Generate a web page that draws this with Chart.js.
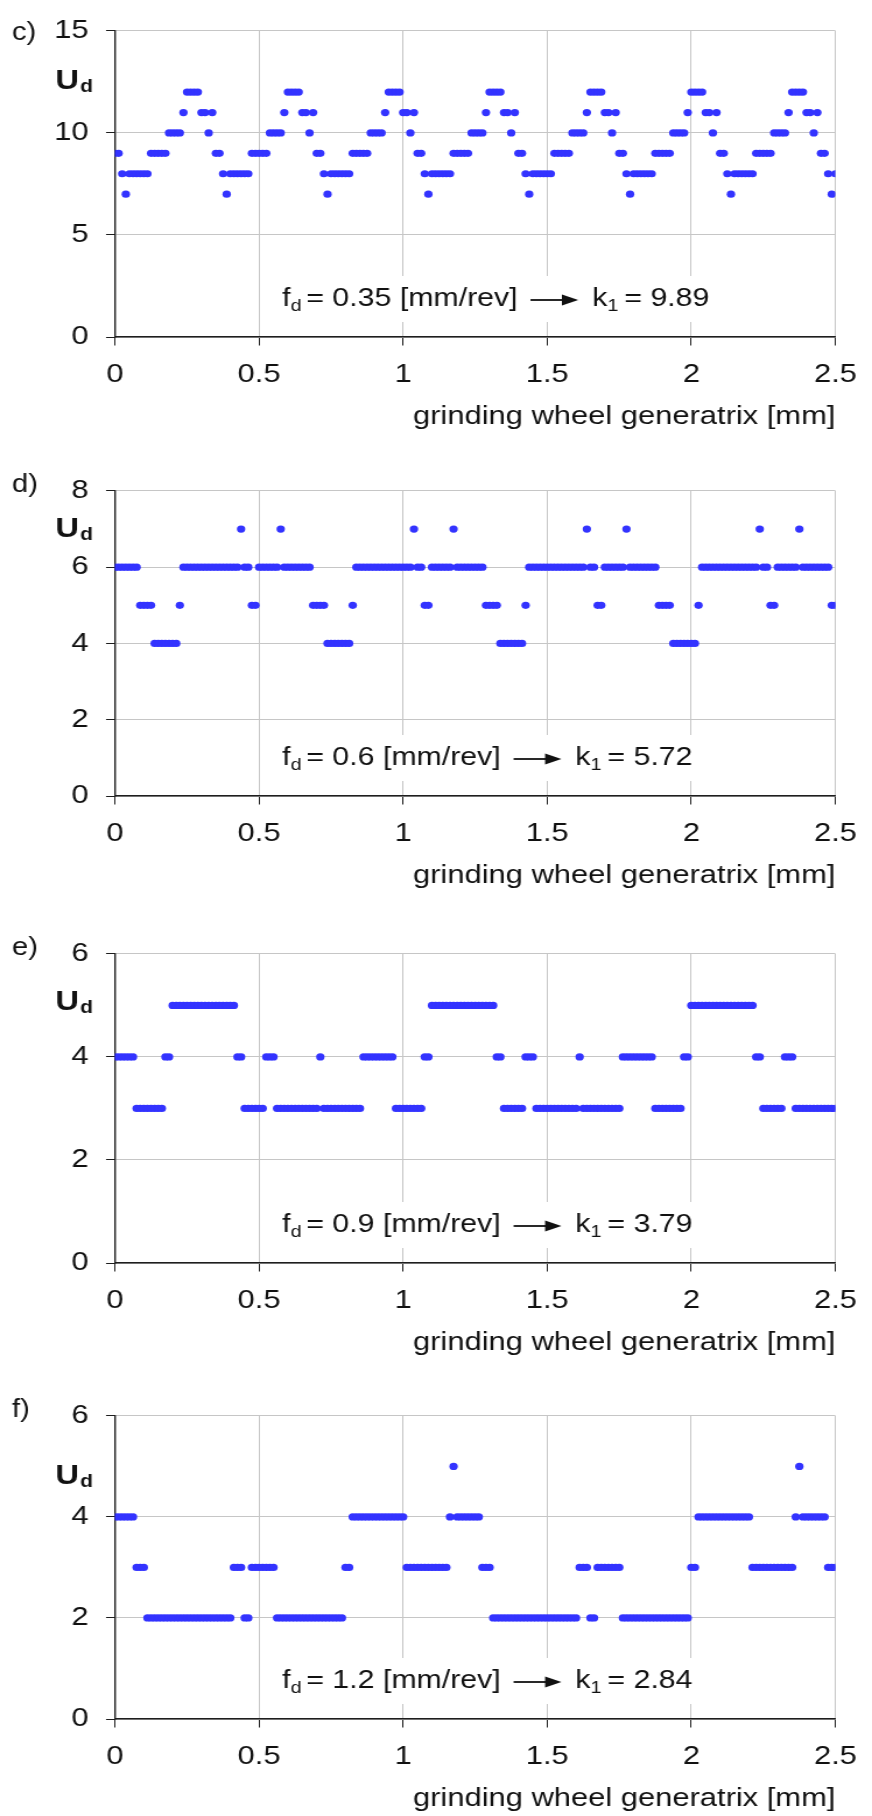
<!DOCTYPE html>
<html>
<head>
<meta charset="utf-8">
<title>Ud along the grinding wheel generatrix</title>
<script src="https://cdn.jsdelivr.net/npm/chart.js@4.4.0/dist/chart.umd.min.js"></script>
<style>
  html, body { margin: 0; padding: 0; background: #fff; }
  body { position: relative; width: 872px; height: 1816px; overflow: hidden; }
  canvas { position: absolute; left: 0; }
</style>
</head>
<body>
<!-- the original figure is stretched sideways, so each canvas is drawn 748 wide and shown 872 wide -->
<canvas id="panel-c" width="748" height="460" style="top:0px;width:872px;height:460px"></canvas>
<canvas id="panel-d" width="748" height="463" style="top:460px;width:872px;height:463px"></canvas>
<canvas id="panel-e" width="748" height="462" style="top:923px;width:872px;height:462px"></canvas>
<canvas id="panel-f" width="748" height="431" style="top:1385px;width:872px;height:431px"></canvas>
<script>
// sampling step along the generatrix [mm], 201 samples from 0 to 2.5
const STEP_MM = 0.0125;

// Ud, one value per sample
const udC = [
  9, 9, 8, 7, 8, 8, 8, 8, 8, 8, 9, 9, 9, 9, 9, 10, 10, 10, 10, 11, 12, 12, 12, 12, 11, 11, 10, 11,
  9, 9, 8, 7, 8, 8, 8, 8, 8, 8, 9, 9, 9, 9, 9, 10, 10, 10, 10, 11, 12, 12, 12, 12, 11, 11, 10, 11,
  9, 9, 8, 7, 8, 8, 8, 8, 8, 8, 9, 9, 9, 9, 9, 10, 10, 10, 10, 11, 12, 12, 12, 12, 11, 11, 10, 11,
  9, 9, 8, 7, 8, 8, 8, 8, 8, 8, 9, 9, 9, 9, 9, 10, 10, 10, 10, 11, 12, 12, 12, 12, 11, 11, 10, 11,
  9, 9, 8, 7, 8, 8, 8, 8, 8, 8, 9, 9, 9, 9, 9, 10, 10, 10, 10, 11, 12, 12, 12, 12, 11, 11, 10, 11,
  9, 9, 8, 7, 8, 8, 8, 8, 8, 8, 9, 9, 9, 9, 9, 10, 10, 10, 10, 11, 12, 12, 12, 12, 11, 11, 10, 11,
  9, 9, 8, 7, 8, 8, 8, 8, 8, 8, 9, 9, 9, 9, 9, 10, 10, 10, 10, 11, 12, 12, 12, 12, 11, 11, 10, 11,
  9, 9, 8, 7, 8
];

const udD = [
  6, 6, 6, 6, 6, 6, 6, 5, 5, 5, 5, 4, 4, 4, 4, 4, 4, 4, 5, 6, 6, 6, 6, 6, 6, 6, 6,
  6, 6, 6, 6, 6, 6, 6, 6, 7, 6, 6, 5, 5, 6, 6, 6, 6, 6, 6, 7, 6,
  6, 6, 6, 6, 6, 6, 6, 5, 5, 5, 5, 4, 4, 4, 4, 4, 4, 4, 5, 6, 6, 6, 6, 6, 6, 6, 6,
  6, 6, 6, 6, 6, 6, 6, 6, 7, 6, 6, 5, 5, 6, 6, 6, 6, 6, 6, 7, 6,
  6, 6, 6, 6, 6, 6, 6, 5, 5, 5, 5, 4, 4, 4, 4, 4, 4, 4, 5, 6, 6, 6, 6, 6, 6, 6, 6,
  6, 6, 6, 6, 6, 6, 6, 6, 7, 6, 6, 5, 5, 6, 6, 6, 6, 6, 6, 7, 6,
  6, 6, 6, 6, 6, 6, 6, 5, 5, 5, 5, 4, 4, 4, 4, 4, 4, 4, 5, 6, 6, 6, 6, 6, 6, 6, 6,
  6, 6, 6, 6, 6, 6, 6, 6, 7, 6, 6, 5, 5, 6, 6, 6, 6, 6, 6, 7, 6,
  6, 6, 6, 6, 6, 6, 6, 5, 5
];

const udE = [
  4, 4, 4, 4, 4, 4, 3, 3, 3, 3, 3, 3, 3, 3, 4, 4,
  5, 5, 5, 5, 5, 5, 5, 5, 5, 5, 5, 5, 5, 5, 5, 5, 5, 5,
  4, 4, 3, 3, 3, 3, 3, 3, 4, 4, 4,
  3, 3, 3, 3, 3, 3, 3, 3, 3, 3, 3, 3, 4,
  3, 3, 3, 3, 3, 3, 3, 3, 3, 3, 3, 4, 4, 4,
  4, 4, 4, 4, 4, 4, 3, 3, 3, 3, 3, 3, 3, 3, 4, 4,
  5, 5, 5, 5, 5, 5, 5, 5, 5, 5, 5, 5, 5, 5, 5, 5, 5, 5,
  4, 4, 3, 3, 3, 3, 3, 3, 4, 4, 4,
  3, 3, 3, 3, 3, 3, 3, 3, 3, 3, 3, 3, 4,
  3, 3, 3, 3, 3, 3, 3, 3, 3, 3, 3, 4, 4, 4,
  4, 4, 4, 4, 4, 4, 3, 3, 3, 3, 3, 3, 3, 3, 4, 4,
  5, 5, 5, 5, 5, 5, 5, 5, 5, 5, 5, 5, 5, 5, 5, 5, 5, 5,
  4, 4, 3, 3, 3, 3, 3, 3, 4, 4, 4,
  3, 3, 3, 3, 3, 3, 3, 3, 3, 3, 3, 3
];

const udF = [
  4, 4, 4, 4, 4, 4, 3, 3, 3,
  2, 2, 2, 2, 2, 2, 2, 2, 2, 2, 2, 2, 2, 2, 2, 2, 2, 2, 2, 2, 2, 2, 2, 2,
  3, 3, 3, 2, 2, 3, 3, 3, 3, 3, 3, 3,
  2, 2, 2, 2, 2, 2, 2, 2, 2, 2, 2, 2, 2, 2, 2, 2, 2, 2, 2,
  3, 3, 4, 4, 4, 4, 4, 4, 4, 4, 4, 4, 4, 4, 4, 4, 4,
  3, 3, 3, 3, 3, 3, 3, 3, 3, 3, 3, 3, 4, 5, 4,
  4, 4, 4, 4, 4, 4, 3, 3, 3,
  2, 2, 2, 2, 2, 2, 2, 2, 2, 2, 2, 2, 2, 2, 2, 2, 2, 2, 2, 2, 2, 2, 2, 2,
  3, 3, 3, 2, 2, 3, 3, 3, 3, 3, 3, 3,
  2, 2, 2, 2, 2, 2, 2, 2, 2, 2, 2, 2, 2, 2, 2, 2, 2, 2, 2,
  3, 3, 4, 4, 4, 4, 4, 4, 4, 4, 4, 4, 4, 4, 4, 4, 4,
  3, 3, 3, 3, 3, 3, 3, 3, 3, 3, 3, 3, 4, 5, 4,
  4, 4, 4, 4, 4, 4, 3, 3, 3
];

const panelLetters = ['c)', 'd)', 'e)', 'f)'];
const feedRates = ['0.35', '0.6', '0.9', '1.2'];
const k1Values = ['9.89', '5.72', '3.79', '2.84'];
const yMaxes = [15, 8, 6, 6];
const ySteps = [5, 2, 2, 2];
const xTicks = [0, 0.5, 1, 1.5, 2, 2.5];

// layout (canvas px)
const canvasIds = ['panel-c', 'panel-d', 'panel-e', 'panel-f'];
const plotBottoms = [337, 336, 340, 334];
const letterDy = [2, -6, -6, -6];
const udLabelDy = [50, 38, 48, 60];
const PLOT_TOP = 22;
const Y_AXIS_W = 98.65;
const X_AXIS_H = 97;
const PAD_RIGHT = 21.5;
const NOTE_LEFT = 242;

const FONT = '"Liberation Sans", Arial, Helvetica, sans-serif';
const DOT = 'rgb(51, 51, 255)';
const GRID = '#c6c6c6';
const AXIS = '#1e1e1e';
const TEXT_SIZE = 26.5;

Chart.defaults.font.family = FONT;
Chart.defaults.color = '#111';

function textWidth(ctx, font, s) {
  ctx.font = font;
  return ctx.measureText(s).width;
}

// "f_d = 0.35 [mm/rev] ⟶ k_1 = 9.89"
function noteParts(fd, k1) {
  const main = '26px ' + FONT, sub = '17px ' + FONT;
  return [
    {text: 'f', font: main},
    {text: 'd', font: sub, dy: 7},
    {gap: 4},
    {text: '= ' + fd + ' [mm/rev]', font: main},
    {gap: 11},
    {arrow: 41},
    {gap: 12},
    {text: 'k', font: main},
    {text: '1', font: sub, dy: 7},
    {gap: 5},
    {text: '= ' + k1, font: main}
  ];
}

function layoutNote(chart, opts) {
  const ctx = chart.ctx;
  const parts = noteParts(opts.fd, opts.k1);
  let total = 0;
  parts.forEach(p => {
    p.w = p.text ? textWidth(ctx, p.font, p.text) : (p.gap || p.arrow);
    total += p.w;
  });
  const cy = chart.chartArea.bottom - 38;
  return {parts, left: NOTE_LEFT, right: NOTE_LEFT + total, cy};
}

const panelDecor = {
  id: 'panelDecor',
  beforeDatasetsDraw(chart, args, opts) {
    const ctx = chart.ctx;
    const note = layoutNote(chart, opts);
    ctx.save();
    ctx.fillStyle = '#fff';
    ctx.fillRect(note.left - 10, note.cy - 23, note.right - note.left + 20, 46);
    ctx.restore();
  },
  afterDraw(chart, args, opts) {
    const ctx = chart.ctx;
    const top = chart.chartArea.top;
    ctx.save();
    ctx.fillStyle = '#111';
    ctx.textBaseline = 'middle';
    ctx.textAlign = 'left';

    ctx.font = '25px ' + FONT;
    ctx.fillText(opts.letter, 10.3, top + opts.letterDy);

    ctx.font = 'bold 28px ' + FONT;
    ctx.fillText('U', 47.5, top + opts.udDy);
    const uw = ctx.measureText('U').width;
    ctx.font = 'bold 18px ' + FONT;
    ctx.fillText('d', 47.5 + uw + 1, top + opts.udDy + 6);

    const note = layoutNote(chart, opts);
    let x = note.left;
    note.parts.forEach(p => {
      if (p.text) {
        ctx.font = p.font;
        ctx.fillText(p.text, x, note.cy + (p.dy || 0));
      } else if (p.arrow) {
        const y = note.cy + 1;
        ctx.strokeStyle = '#111';
        ctx.lineWidth = 1.8;
        ctx.beginPath();
        ctx.moveTo(x, y);
        ctx.lineTo(x + p.arrow - 10, y);
        ctx.stroke();
        ctx.beginPath();
        ctx.moveTo(x + p.arrow, y);
        ctx.lineTo(x + p.arrow - 14, y - 5.5);
        ctx.lineTo(x + p.arrow - 14, y + 5.5);
        ctx.closePath();
        ctx.fill();
      }
      x += p.w;
    });
    ctx.restore();
  }
};

const panelData = [udC, udD, udE, udF];

panelData.forEach((values, i) => {
  const canvas = document.getElementById(canvasIds[i]);
  const points = values.map((v, j) => ({x: j * STEP_MM, y: v}));
  const padBottom = canvas.height - plotBottoms[i] - X_AXIS_H;

  new Chart(canvas, {
    type: 'scatter',
    data: {
      datasets: [{
        data: points,
        backgroundColor: DOT,
        borderColor: DOT,
        borderWidth: 0,
        pointRadius: 3.6,
        pointHoverRadius: 3.6
      }]
    },
    options: {
      responsive: false,
      animation: false,
      devicePixelRatio: 1,
      layout: {padding: {left: 0, right: PAD_RIGHT, top: PLOT_TOP, bottom: padBottom}},
      plugins: {
        legend: {display: false},
        tooltip: {enabled: false},
        panelDecor: {
          letter: panelLetters[i],
          fd: feedRates[i],
          k1: k1Values[i],
          letterDy: letterDy[i],
          udDy: udLabelDy[i]
        }
      },
      scales: {
        x: {
          type: 'linear',
          min: 0,
          max: 2.5,
          afterBuildTicks: (scale) => { scale.ticks = xTicks.map(v => ({value: v})); },
          afterFit: (scale) => { scale.height = X_AXIS_H; },
          grid: {color: GRID, lineWidth: 1, tickColor: AXIS, tickLength: 8.5, tickWidth: 1},
          border: {color: AXIS, width: 1.4},
          ticks: {
            color: '#111',
            font: {size: TEXT_SIZE},
            padding: 13,
            maxRotation: 0,
            callback: (v) => String(v)
          },
          title: {
            display: true,
            text: 'grinding wheel generatrix [mm]',
            align: 'end',
            color: '#111',
            font: {size: TEXT_SIZE},
            padding: {top: 0, bottom: 1}
          }
        },
        y: {
          min: 0,
          max: yMaxes[i],
          afterFit: (scale) => { scale.width = Y_AXIS_W; },
          grid: {color: GRID, lineWidth: 1, tickColor: AXIS, tickLength: 7.7, tickWidth: 1},
          border: {color: AXIS, width: 1.4},
          ticks: {stepSize: ySteps[i], color: '#111', font: {size: TEXT_SIZE}, padding: 15}
        }
      }
    },
    plugins: [panelDecor]
  });
});
</script>
</body>
</html>
